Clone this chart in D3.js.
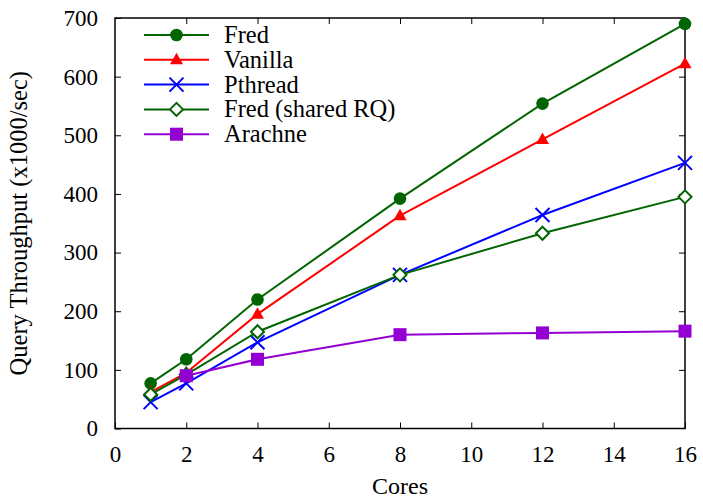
<!DOCTYPE html>
<html><head><meta charset="utf-8">
<script src="https://cdn.jsdelivr.net/npm/d3@7"></script>
<style>body{margin:0;background:#fff}svg{display:block}text{font-family:"Liberation Serif","Times New Roman",serif;fill:#000}</style>
</head><body>
<svg id="c" width="703" height="500"></svg>
<script>
const cores = [1, 2, 4, 8, 12, 16];
const fred = [77, 118, 220, 392, 554, 690];
const vanilla = [62, 95, 195, 363, 493, 622];
const pthread = [45, 77, 147, 262, 364, 453];
const fredShared = [58, 92, 165, 262, 333, 395];
const arachneCores = [2, 4, 8, 12, 16];
const arachne = [90, 118, 160, 163, 166];
const xTicks = [0, 2, 4, 6, 8, 10, 12, 14, 16];
const yTicks = [0, 100, 200, 300, 400, 500, 600, 700];

const series = [
  {name: "Fred", xs: cores, ys: fred, color: "#006400", marker: "circle"},
  {name: "Vanilla", xs: cores, ys: vanilla, color: "#ff0000", marker: "triangle"},
  {name: "Pthread", xs: cores, ys: pthread, color: "#0000ff", marker: "cross"},
  {name: "Fred (shared RQ)", xs: cores, ys: fredShared, color: "#006400", marker: "diamond"},
  {name: "Arachne", xs: arachneCores, ys: arachne, color: "#9400d3", marker: "square"}
];

const svg = d3.select("#c");
const L = 115, R = 685, T = 18, B = 428.5;
const x = d3.scaleLinear().domain([0, 16]).range([L, R]);
const y = d3.scaleLinear().domain([0, 700]).range([B, T]);

const tl = 6;
const g = svg.append("g");
g.append("g").attr("transform", `translate(0,${B})`)
  .call(d3.axisBottom(x).tickValues(xTicks).tickSize(-tl).tickFormat(d3.format("d")))
  .call(s => { s.select(".domain").remove(); s.selectAll("text").attr("font-size", 23).attr("y", 33.5).attr("dy", 0); });
g.append("g").attr("transform", `translate(0,${T})`)
  .call(d3.axisTop(x).tickValues(xTicks.slice(1, -1)).tickSize(-tl).tickFormat(""))
  .call(s => s.select(".domain").remove());
g.append("g").attr("transform", `translate(${L},0)`)
  .call(d3.axisLeft(y).tickValues(yTicks).tickSize(-tl).tickPadding(17).tickFormat(d3.format("d")))
  .call(s => { s.select(".domain").remove(); s.selectAll("text").attr("font-size", 23); });
g.append("g").attr("transform", `translate(${R},0)`)
  .call(d3.axisRight(y).tickValues(yTicks.slice(1, -1)).tickSize(-tl).tickFormat(""))
  .call(s => s.select(".domain").remove());
g.selectAll(".tick line").attr("stroke", "#000").attr("stroke-width", 1);
g.selectAll(".tick text").attr("fill", "#000");

svg.append("rect").attr("x", L).attr("y", T).attr("width", R - L).attr("height", B - T)
  .attr("fill", "none").attr("stroke", "#000").attr("stroke-width", 1.5);

svg.append("text").attr("x", (L + R) / 2).attr("y", 494).attr("text-anchor", "middle").attr("font-size", 24).text("Cores");
svg.append("text").attr("transform", `translate(27,${(T + B) / 2}) rotate(-90)`).attr("text-anchor", "middle").attr("font-size", 24.5).text("Query Throughput (x1000/sec)");

function drawMarker(sel, type, color) {
  if (type === "circle") sel.append("circle").attr("r", 6.3).attr("fill", color);
  else if (type === "triangle") sel.append("path").attr("d", "M0,-7L6.5,4.5L-6.5,4.5Z").attr("fill", color);
  else if (type === "cross") sel.append("path").attr("d", "M-7,-7L7,7M-7,7L7,-7").attr("stroke", color).attr("stroke-width", 2).attr("fill", "none");
  else if (type === "diamond") sel.append("path").attr("d", "M0,-6.5L6.5,0L0,6.5L-6.5,0Z").attr("stroke", color).attr("stroke-width", 2).attr("fill", "#fff");
  else if (type === "square") sel.append("rect").attr("x", -6.5).attr("y", -6.5).attr("width", 13).attr("height", 13).attr("fill", color);
}

const line = d3.line().x(d => x(d[0])).y(d => y(d[1]));
series.forEach(s => {
  const pts = s.xs.map((c, i) => [c, s.ys[i]]);
  svg.append("path").attr("d", line(pts)).attr("fill", "none").attr("stroke", s.color).attr("stroke-width", 2);
  pts.forEach(p => {
    const m = svg.append("g").attr("transform", `translate(${x(p[0])},${y(p[1])})`);
    drawMarker(m, s.marker, s.color);
  });
});

const legY0 = 35, legDy = 24.8;
series.forEach((s, i) => {
  const yy = legY0 + i * legDy;
  svg.append("line").attr("x1", 144).attr("x2", 209).attr("y1", yy).attr("y2", yy).attr("stroke", s.color).attr("stroke-width", 2);
  const m = svg.append("g").attr("transform", `translate(176.5,${yy})`);
  drawMarker(m, s.marker, s.color);
  svg.append("text").attr("x", 224).attr("y", yy).attr("dy", "0.33em").attr("font-size", 24.5).text(s.name);
});
</script>
</body></html>
